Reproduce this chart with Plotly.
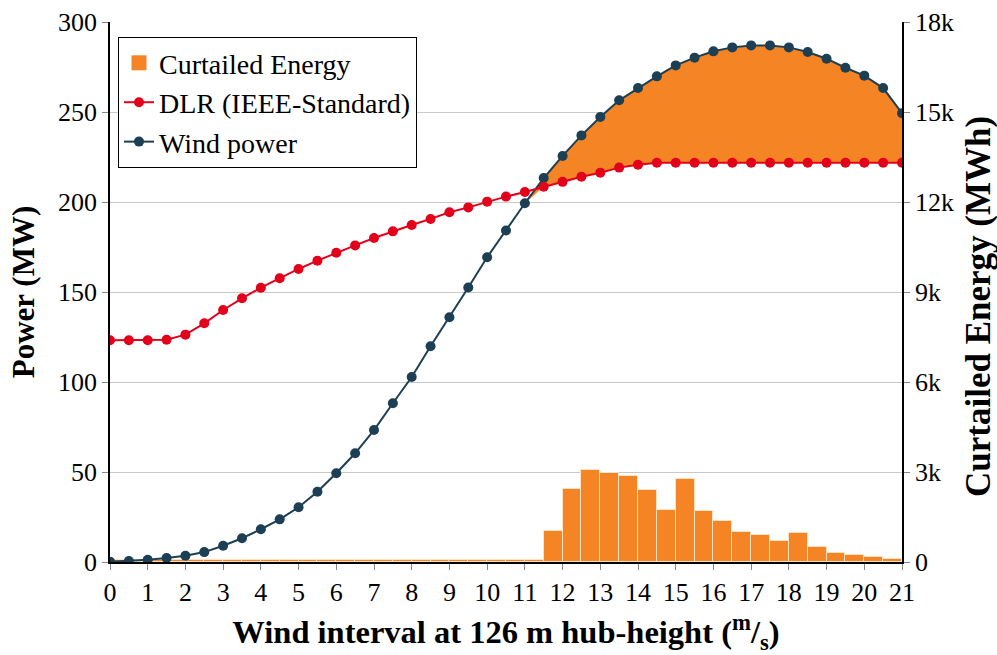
import plotly.graph_objects as go

wind_speed = [i * 0.5 for i in range(43)]

wind_power = [0.2, 0.5, 1.2, 2.2, 3.5, 5.5, 9.0, 13.2, 18.2, 23.7, 30.4, 39.0, 49.3, 60.4,
              73.3, 88.2, 102.8, 119.9, 136.0, 152.5, 169.3, 184.2, 199.3, 213.3, 225.6,
              237.0, 247.2, 256.5, 263.3, 269.8, 275.9, 280.2, 283.7, 285.9, 287.0, 287.0,
              285.9, 283.3, 279.6, 274.6, 270.2, 263.3, 249.3]

dlr = [123.2, 123.2, 123.2, 123.5, 126.3, 132.6, 140.0, 146.5, 152.4, 157.6, 162.8, 167.4,
       171.8, 175.9, 180.0, 183.7, 187.2, 190.6, 194.3, 197.0, 200.2, 203.0, 205.6, 208.5,
       211.2, 214.0, 216.3, 219.1, 220.7, 221.8, 221.8, 221.8, 221.8, 221.8, 221.8, 221.8,
       221.8, 221.8, 221.8, 221.8, 221.8, 221.8, 221.8]

curtailed = [60] * 23 + [1040, 2445, 3080, 2955, 2880, 2410, 1745, 2765, 1690, 1355, 1010,
                         910, 710, 955, 490, 290, 225, 155, 100]

energy_ticks = [0, 3000, 6000, 9000, 12000, 15000, 18000]
energy_labels = ["0", "3k", "6k", "9k", "12k", "15k", "18k"]

bar_x = [(a + b) / 2 for a, b in zip(wind_speed[:-1], wind_speed[1:])]
fill_base = [min(w, d) for w, d in zip(wind_power, dlr)]

ORANGE = "#F48424"
RED = "#E2001A"
NAVY = "#1C3F54"
FONT = "Liberation Serif"

fig = go.Figure()

fig.add_trace(go.Bar(
    x=bar_x, y=curtailed, width=0.5, name="Curtailed Energy",
    marker=dict(color=ORANGE, line=dict(color="rgba(255,225,195,1)", width=1)),
    yaxis="y", showlegend=False,
))
# legend entry for curtailed energy (square symbol)
fig.add_trace(go.Scatter(
    x=[None], y=[None], mode="markers", name="Curtailed Energy",
    marker=dict(color=ORANGE, symbol="square", size=15),
    yaxis="y", legendrank=1,
))

fig.add_trace(go.Scatter(
    x=wind_speed, y=fill_base, mode="lines", line=dict(width=0, color=ORANGE),
    showlegend=False, yaxis="y2", hoverinfo="skip",
))
fig.add_trace(go.Scatter(
    x=wind_speed, y=wind_power, mode="lines", line=dict(width=0, color=ORANGE),
    fill="tonexty", fillcolor=ORANGE, showlegend=False, yaxis="y2", hoverinfo="skip",
))

fig.add_trace(go.Scatter(
    x=wind_speed, y=wind_power, mode="lines+markers", name="Wind power",
    line=dict(color=NAVY, width=2), marker=dict(color=NAVY, size=10),
    yaxis="y2", legendrank=3,
))
fig.add_trace(go.Scatter(
    x=wind_speed, y=dlr, mode="lines+markers", name="DLR (IEEE-Standard)",
    line=dict(color=RED, width=2), marker=dict(color=RED, size=10),
    yaxis="y2", legendrank=2,
))

fig.update_layout(
    width=997, height=655,
    margin=dict(l=110, r=95, t=22, b=93),
    paper_bgcolor="white", plot_bgcolor="white",
    font=dict(family=FONT, size=26, color="black"),
    bargap=0,
    showlegend=True,
    legend=dict(
        x=0.0101, y=0.972, xanchor="left", yanchor="top",
        bgcolor="white", bordercolor="black", borderwidth=1,
        font=dict(family=FONT, size=28, color="black"),
        itemwidth=30, traceorder="normal",
    ),
    xaxis=dict(
        range=[0, 21], dtick=1, tick0=0, automargin=False,
        showline=True, linecolor="black", linewidth=1.5,
        ticks="outside", ticklen=6, tickcolor="#888888",
        showgrid=False, zeroline=False,
        tickfont=dict(size=26),
        title=dict(text="<b>Wind interval at 126 m hub-height (<sup>m</sup>/<sub>s</sub>)</b>",
                   font=dict(size=32.5), standoff=16),
    ),
    yaxis=dict(
        side="right", range=[0, 18000], automargin=False,
        tickvals=energy_ticks, ticktext=energy_labels,
        showline=True, linecolor="black", linewidth=1.5,
        ticks="outside", ticklen=6, tickcolor="#888888",
        showgrid=True, gridcolor="#C8C8C8", gridwidth=1, zeroline=False,
        tickfont=dict(size=26),
    ),
    yaxis2=dict(
        overlaying="y", side="left", range=[0, 300], dtick=50, tick0=0, automargin=False,
        showline=True, linecolor="black", linewidth=1.5,
        ticks="outside", ticklen=6, tickcolor="#888888",
        showgrid=False, zeroline=False,
        tickfont=dict(size=26),
        title=dict(text="<b>Power (MW)</b>", font=dict(size=31), standoff=14),
    ),
    annotations=[dict(
        text="<b>Curtailed Energy (MWh)</b>", textangle=-90,
        xref="paper", yref="paper", x=(978 - 110) / 792, y=1 - (307 - 22) / 540,
        xanchor="center", yanchor="middle", showarrow=False,
        font=dict(family=FONT, size=35, color="black"),
    )],
)

fig.write_html("out.html", config={"displayModeBar": False},
               post_script="document.body.style.margin='0';")
